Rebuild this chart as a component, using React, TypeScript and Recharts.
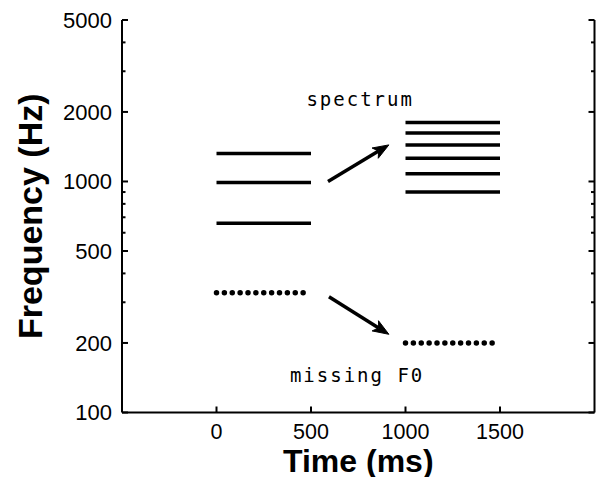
import React from 'react';
import { ComposedChart, Line, XAxis, YAxis, ReferenceLine, ReferenceDot } from 'recharts';

// ---- data ----
const TIME_DOMAIN = [-500, 2000];
const TIME_TICKS = [0, 500, 1000, 1500];
const FREQ_DOMAIN = [100, 5000];
const FREQ_TICKS = [100, 200, 500, 1000, 2000, 5000];
const FREQ_MINOR_TICKS = [300, 400, 600, 700, 800, 900, 3000, 4000];

const TONE1_TIMES = [0, 500];
const TONE1_HARMONICS = [660, 990, 1320];
const TONE1_F0 = 330;

const TONE2_TIMES = [1000, 1500];
const TONE2_HARMONICS = [900, 1080, 1260, 1440, 1620, 1800];
const TONE2_F0 = 200;

const ARROW_SPECTRUM = [{ t: 590, f: 1000 }, { t: 912, f: 1440 }];
const ARROW_F0 = [{ t: 595, f: 317 }, { t: 912, f: 218 }];

const LABEL_SPECTRUM = { text: 'spectrum', t: 760, f: 2125 };
const LABEL_F0 = { text: 'missing F0', t: 744, f: 136 };

// ---- helpers ----
const seg = (times: number[], f: number) => times.map((t) => ({ t, f }));
const ALL_FREQ_TICKS = [...FREQ_TICKS, ...FREQ_MINOR_TICKS].sort((a, b) => a - b);

const TICK_FONT = "'Liberation Sans', Arial, sans-serif";
const MONO_FONT = "'DejaVu Sans Mono', 'Liberation Mono', monospace";

const LeftTick = (p: any) => {
  const { x, y, payload } = p;
  const major = FREQ_TICKS.includes(payload.value);
  const edge = x + 10;
  return (
    <g>
      <line x1={edge} x2={edge + (major ? 6 : 3.5)} y1={y} y2={y} stroke="#000" strokeWidth={2} />
      {major && (
        <text x={x} y={y} dy="0.36em" textAnchor="end" fontFamily={TICK_FONT} fontSize={22} fill="#000">
          {payload.value}
        </text>
      )}
    </g>
  );
};

const RightTick = (p: any) => {
  const { x, y, payload } = p;
  const major = FREQ_TICKS.includes(payload.value);
  return <line x1={x} x2={x - (major ? 6 : 3.5)} y1={y} y2={y} stroke="#000" strokeWidth={2} />;
};

const BottomTick = (p: any) => {
  const { x, y, payload } = p;
  return (
    <g>
      <line x1={x} x2={x} y1={y} y2={y - 6} stroke="#000" strokeWidth={2} />
      <text x={x} y={y + 26.5} textAnchor="middle" fontFamily={TICK_FONT} fontSize={21.5} fill="#000">
        {payload.value}
      </text>
    </g>
  );
};

const TopTick = (p: any) => {
  const { x, y } = p;
  return <line x1={x} x2={x} y1={y} y2={y + 6} stroke="#000" strokeWidth={2} />;
};

const Arrow = (p: any) => {
  const { x1, y1, x2, y2 } = p;
  const ang = Math.atan2(y2 - y1, x2 - x1);
  const L = 16;
  const W = 6;
  const bx = x2 - L * Math.cos(ang);
  const by = y2 - L * Math.sin(ang);
  const px = -Math.sin(ang);
  const py = Math.cos(ang);
  const pts = `${x2},${y2} ${bx + W * px},${by + W * py} ${bx + L * 0.25 * Math.cos(ang)},${by + L * 0.25 * Math.sin(ang)} ${bx - W * px},${by - W * py}`;
  return (
    <g>
      <line x1={x1} y1={y1} x2={bx + 4 * Math.cos(ang)} y2={by + 4 * Math.sin(ang)} stroke="#000" strokeWidth={3.5} />
      <polygon points={pts} fill="#000" stroke="#000" strokeWidth={1} strokeLinejoin="miter" />
    </g>
  );
};

const annotation = (text: string) => (p: any) => (
  <text x={p.cx} y={p.cy} textAnchor="middle" fontFamily={MONO_FONT} fontSize={19} letterSpacing={2} fill="#000">
    {text}
  </text>
);

const FreqTitle = (p: any) => {
  const vb = p.viewBox || { x: 0, y: 20, width: 122, height: 392 };
  const cx = vb.x + 42;
  const cy = vb.y + vb.height / 2;
  return (
    <text x={cx} y={cy} transform={`rotate(-90 ${cx} ${cy})`} textAnchor="middle" fontFamily={TICK_FONT} fontWeight="bold" fontSize={34} fill="#000">
      Frequency (Hz)
    </text>
  );
};

const TimeTitle = (p: any) => {
  const vb = p.viewBox || { x: 122, y: 412, width: 473, height: 65 };
  const cx = vb.x + vb.width / 2;
  const cy = vb.y + 59;
  return (
    <text x={cx} y={cy} textAnchor="middle" fontFamily={TICK_FONT} fontWeight="bold" fontSize={32} fill="#000">
      Time (ms)
    </text>
  );
};

const lineCommon = {
  xAxisId: 'bottom',
  yAxisId: 'left',
  dataKey: 'f',
  type: 'linear' as const,
  dot: false,
  activeDot: false,
  isAnimationActive: false,
  stroke: '#000',
  legendType: 'none' as const,
};

export default function App() {
  return (
    <div style={{ position: 'absolute', left: 0, top: 0, width: 596, height: 477, background: '#fff' }}>
      <ComposedChart width={596} height={477} margin={{ top: 20, right: 0, bottom: 0, left: 0 }}>
        <XAxis
          xAxisId="bottom"
          type="number"
          dataKey="t"
          domain={TIME_DOMAIN}
          ticks={TIME_TICKS}
          interval={0}
          allowDataOverflow
          height={64.5}
          tickSize={0}
          tickMargin={0}
          tickLine={false}
          tick={<BottomTick />}
          axisLine={{ stroke: '#000', strokeWidth: 2 }}
          label={{ content: (p: any) => <TimeTitle {...p} /> }}
        />
        <XAxis
          xAxisId="top"
          orientation="top"
          type="number"
          dataKey="t"
          domain={TIME_DOMAIN}
          ticks={TIME_TICKS}
          interval={0}
          allowDataOverflow
          height={0}
          tickSize={0}
          tickMargin={0}
          tickLine={false}
          tick={<TopTick />}
          axisLine={{ stroke: '#000', strokeWidth: 2 }}
        />
        <YAxis
          yAxisId="left"
          type="number"
          scale="log"
          domain={FREQ_DOMAIN}
          ticks={ALL_FREQ_TICKS}
          interval={0}
          allowDataOverflow
          width={122}
          tickSize={0}
          tickMargin={10}
          tickLine={false}
          tick={<LeftTick />}
          axisLine={{ stroke: '#000', strokeWidth: 2 }}
          label={{ content: (p: any) => <FreqTitle {...p} /> }}
        />
        <YAxis
          yAxisId="right"
          orientation="right"
          type="number"
          scale="log"
          domain={FREQ_DOMAIN}
          ticks={ALL_FREQ_TICKS}
          interval={0}
          allowDataOverflow
          width={1.5}
          tickSize={0}
          tickMargin={0}
          tickLine={false}
          tick={<RightTick />}
          axisLine={{ stroke: '#000', strokeWidth: 2 }}
        />

        {TONE1_HARMONICS.map((f) => (
          <Line key={`t1-${f}`} {...lineCommon} data={seg(TONE1_TIMES, f)} strokeWidth={3.5} />
        ))}
        <Line {...lineCommon} data={seg(TONE1_TIMES, TONE1_F0)} strokeWidth={5.5} strokeLinecap="round" strokeDasharray="0 7.875" />

        {TONE2_HARMONICS.map((f) => (
          <Line key={`t2-${f}`} {...lineCommon} data={seg(TONE2_TIMES, f)} strokeWidth={3.5} />
        ))}
        <Line {...lineCommon} data={seg(TONE2_TIMES, TONE2_F0)} strokeWidth={5.5} strokeLinecap="round" strokeDasharray="0 7.875" />

        <ReferenceLine
          xAxisId="bottom"
          yAxisId="left"
          segment={[{ x: ARROW_SPECTRUM[0].t, y: ARROW_SPECTRUM[0].f }, { x: ARROW_SPECTRUM[1].t, y: ARROW_SPECTRUM[1].f }]}
          shape={(p: any) => <Arrow {...p} />}
        />
        <ReferenceLine
          xAxisId="bottom"
          yAxisId="left"
          segment={[{ x: ARROW_F0[0].t, y: ARROW_F0[0].f }, { x: ARROW_F0[1].t, y: ARROW_F0[1].f }]}
          shape={(p: any) => <Arrow {...p} />}
        />

        <ReferenceDot xAxisId="bottom" yAxisId="left" x={LABEL_SPECTRUM.t} y={LABEL_SPECTRUM.f} r={0} shape={annotation(LABEL_SPECTRUM.text)} />
        <ReferenceDot xAxisId="bottom" yAxisId="left" x={LABEL_F0.t} y={LABEL_F0.f} r={0} shape={annotation(LABEL_F0.text)} />
      </ComposedChart>
    </div>
  );
}
